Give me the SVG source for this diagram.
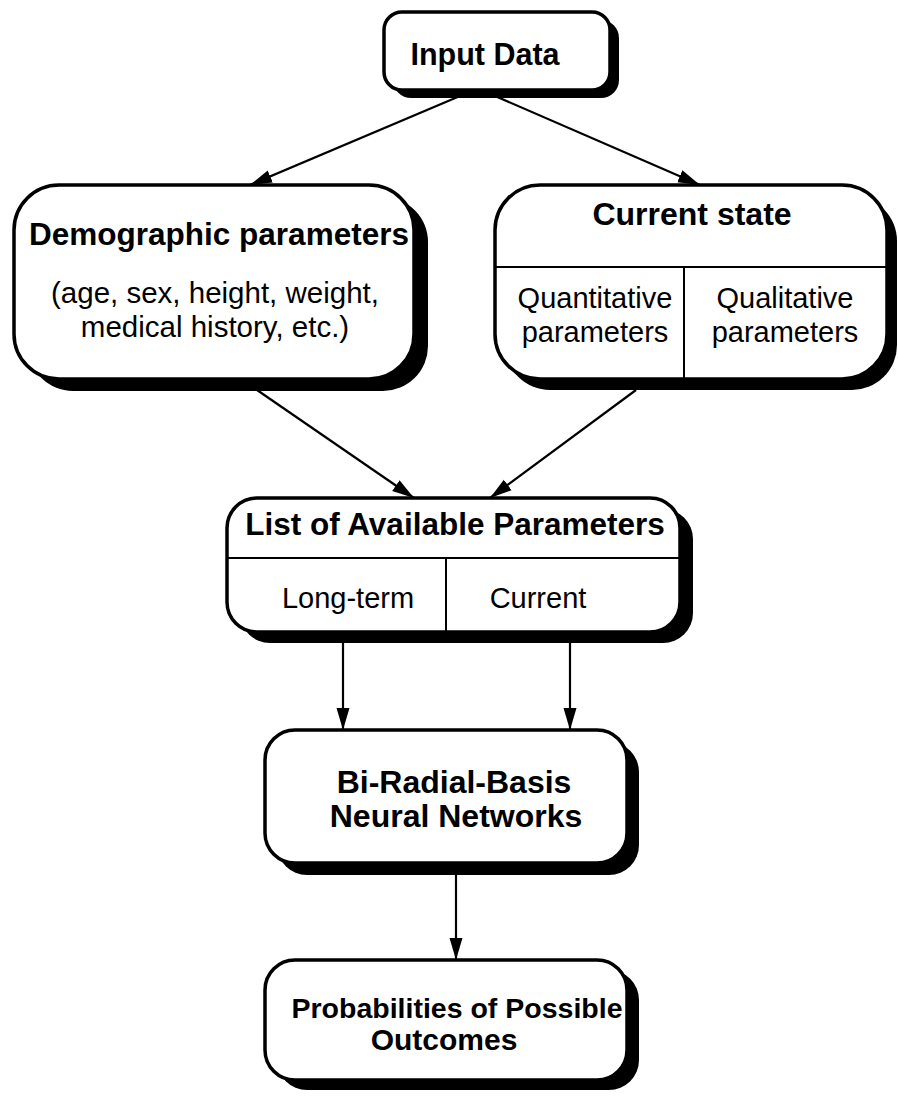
<svg xmlns="http://www.w3.org/2000/svg" width="898" height="1097" viewBox="0 0 898 1097">
  <style>
    .box { fill: #ffffff; stroke: #000000; stroke-width: 3.5; }
    .shadow { fill: #000000; stroke: none; }
    .div { stroke: #000000; stroke-width: 2; fill: none; }
    .edge { stroke: #000000; stroke-width: 2.2; fill: none; }
    .t { font-family: "Liberation Sans", Arial, sans-serif; fill: #000000; text-anchor: middle; }
    .b { font-weight: bold; }
  </style>
  <defs>
    <marker id="arrow" markerUnits="userSpaceOnUse" markerWidth="24" markerHeight="18" refX="22" refY="9" orient="auto">
      <path d="M0,2.5 L22,9 L0,15.5 Z" fill="#000000"/>
    </marker>
  </defs>
  <rect width="898" height="1097" fill="#ffffff"/>

  <!-- connectors -->
  <g id="connectors">
    <line class="edge" x1="460" y1="96" x2="250" y2="185" marker-end="url(#arrow)"/>
    <line class="edge" x1="495" y1="96" x2="700" y2="185" marker-end="url(#arrow)"/>
    <line class="edge" x1="257" y1="390" x2="414" y2="498" marker-end="url(#arrow)"/>
    <line class="edge" x1="636" y1="390" x2="490" y2="498" marker-end="url(#arrow)"/>
    <line class="edge" x1="343" y1="643" x2="343" y2="730" marker-end="url(#arrow)"/>
    <line class="edge" x1="570" y1="643" x2="570" y2="730" marker-end="url(#arrow)"/>
    <line class="edge" x1="456" y1="874" x2="456" y2="960" marker-end="url(#arrow)"/>
  </g>

  <!-- Input Data -->
  <g id="input-data">
    <rect class="shadow" x="393" y="20" width="226" height="78" rx="18"/>
    <rect class="box" x="384" y="12" width="226" height="78" rx="18"/>
    <text class="t b" x="485" y="65" font-size="30.5">Input Data</text>
  </g>

  <!-- Demographic parameters -->
  <g id="demographic">
    <rect class="shadow" x="28" y="197" width="400" height="194" rx="45"/>
    <rect class="box" x="14" y="185" width="400" height="194" rx="45"/>
    <text class="t b" x="219" y="245" font-size="31.5">Demographic parameters</text>
    <text class="t" x="215" y="303" font-size="29.5">(age, sex, height, weight,</text>
    <text class="t" x="215" y="337" font-size="29.5">medical history, etc.)</text>
  </g>

  <!-- Current state -->
  <g id="current-state">
    <rect class="shadow" x="505" y="196" width="392" height="194" rx="45"/>
    <rect class="box" x="495" y="185" width="392" height="194" rx="45"/>
    <line class="div" x1="496" y1="267" x2="886" y2="267"/>
    <line class="div" x1="684" y1="267" x2="684" y2="379"/>
    <text class="t b" x="692" y="225" font-size="32">Current state</text>
    <text class="t" x="595" y="308" font-size="29">Quantitative</text>
    <text class="t" x="595" y="342" font-size="29">parameters</text>
    <text class="t" x="785" y="308" font-size="29">Qualitative</text>
    <text class="t" x="785" y="342" font-size="29">parameters</text>
  </g>

  <!-- List of Available Parameters -->
  <g id="available-parameters">
    <rect class="shadow" x="240" y="509" width="453" height="134" rx="30"/>
    <rect class="box" x="227" y="498" width="453" height="134" rx="30"/>
    <line class="div" x1="228" y1="558" x2="679" y2="558"/>
    <line class="div" x1="446" y1="558" x2="446" y2="632"/>
    <text class="t b" x="455" y="535" font-size="31.5">List of Available Parameters</text>
    <text class="t" x="348" y="608" font-size="29">Long-term</text>
    <text class="t" x="538" y="608" font-size="29">Current</text>
  </g>

  <!-- Bi-Radial-Basis Neural Networks -->
  <g id="neural-networks">
    <rect class="shadow" x="277" y="742" width="362" height="133" rx="30"/>
    <rect class="box" x="265" y="730" width="362" height="133" rx="30"/>
    <text class="t b" x="454" y="793" font-size="32">Bi-Radial-Basis</text>
    <text class="t b" x="456" y="827" font-size="32">Neural Networks</text>
  </g>

  <!-- Probabilities of Possible Outcomes -->
  <g id="outcomes">
    <rect class="shadow" x="277" y="970" width="362" height="120" rx="30"/>
    <rect class="box" x="265" y="960" width="362" height="120" rx="30"/>
    <text class="t b" x="457" y="1018" font-size="28.5">Probabilities of Possible</text>
    <text class="t b" x="444" y="1050" font-size="30">Outcomes</text>
  </g>
</svg>
